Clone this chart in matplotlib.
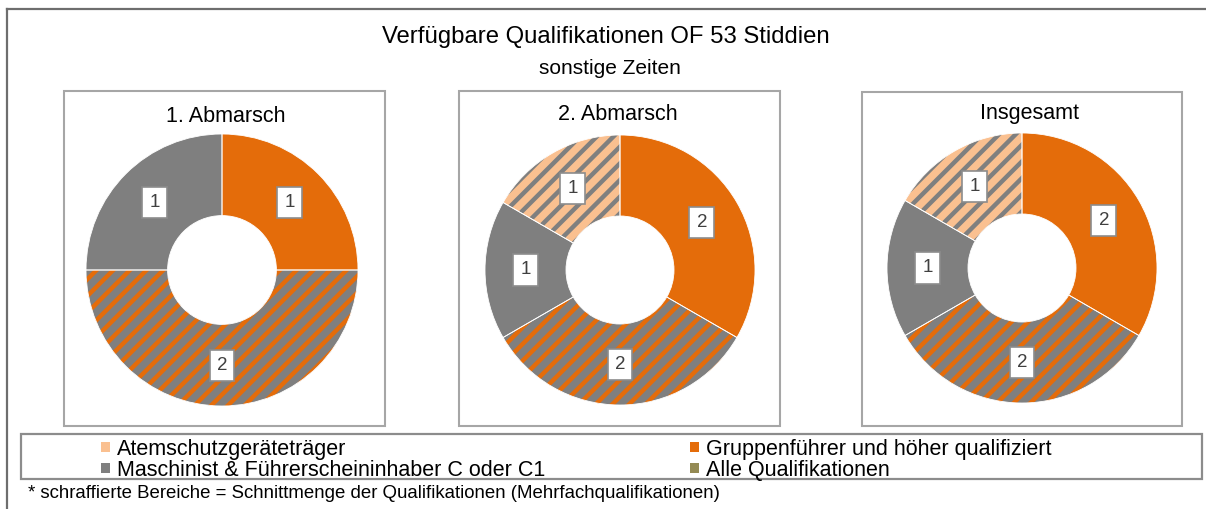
import matplotlib
matplotlib.use("Agg")
import matplotlib.pyplot as plt
from matplotlib.patches import Rectangle, Patch
from matplotlib.lines import Line2D

plt.rcParams['font.family'] = ['Liberation Sans', 'DejaVu Sans']
plt.rcParams['hatch.linewidth'] = 3.2

W, H = 1206, 509

title = "Verfügbare Qualifikationen OF 53 Stiddien"
subtitle = "sonstige Zeiten"
chart_titles = ["1. Abmarsch", "2. Abmarsch", "Insgesamt"]

# slices clockwise from 12 o'clock
segments = ["Gruppenführer", "Gruppenführer & Maschinist", "Maschinist", "Atemschutz & Maschinist"]
values_1 = [1, 2, 1, 0]
values_2 = [2, 2, 1, 1]
values_total = [2, 2, 1, 1]

legend_labels = ["Atemschutzgeräteträger", "Maschinist & Führerscheininhaber C oder C1",
                 "Gruppenführer und höher qualifiziert", "Alle Qualifikationen"]
footnote = "* schraffierte Bereiche = Schnittmenge der Qualifikationen (Mehrfachqualifikationen)"

ORANGE = "#E46C0A"
LIGHT = "#FAC090"
GRAY = "#7F7F7F"
OLIVE = "#948A54"

# face colour, hatch colour (None = solid)
seg_style = {
    "Gruppenführer": (ORANGE, None),
    "Gruppenführer & Maschinist": (GRAY, ORANGE),
    "Maschinist": (GRAY, None),
    "Atemschutz & Maschinist": (LIGHT, GRAY),
}
legend_colors = [LIGHT, GRAY, ORANGE, OLIVE]


def fx(px):
    return px / W


def fy(py):
    return 1 - py / H


def add_box(fig, x0, y0, x1, y1, color="#A6A6A6", lw=1.5):
    fig.patches.append(Rectangle((fx(x0), fy(y1)), fx(x1 - x0), (y1 - y0) / H, transform=fig.transFigure,
                                 fill=False, edgecolor=color, linewidth=lw))


def draw_donut(fig, cx, cy, r, values):
    ax = fig.add_axes([fx(cx - r), fy(cy + r), 2 * r / W, 2 * r / H])
    vals = [v for v in values if v > 0]
    segs = [s for s, v in zip(segments, values) if v > 0]
    total = sum(vals)
    wedges, texts, autotexts = ax.pie(
        vals, startangle=90, counterclock=False, radius=1,
        wedgeprops=dict(width=0.6, linewidth=0),
        autopct=lambda p: f"{p * total / 100:.0f}", pctdistance=0.7,
        textprops=dict(fontsize=13.5, color="#404040"))
    for w, s in zip(wedges, segs):
        face, hatch_col = seg_style[s]
        w.set_facecolor(face)
        if hatch_col is not None:
            w.set_hatch("//")
            w.set_edgecolor(hatch_col)
            w.set_linewidth(0)
    # thin separators between slices
    ax.pie(vals, startangle=90, counterclock=False, radius=1,
           wedgeprops=dict(width=0.6, linewidth=0.6, edgecolor="white", fill=False))
    for t in autotexts:
        t.set_bbox(dict(boxstyle="square,pad=0.38", facecolor="white", edgecolor="#8C8C8C", linewidth=1.2))
    ax.set_xlim(-1, 1)
    ax.set_ylim(-1, 1)
    ax.set_axis_off()


fig = plt.figure(figsize=(W / 100, H / 100), dpi=100)

# outer chart frame (cut at right/bottom)
fig.lines.append(Line2D([fx(7), fx(W)], [fy(9), fy(9)], transform=fig.transFigure, color="#6E6E6E", linewidth=1.6))
fig.lines.append(Line2D([fx(7), fx(7)], [fy(9), fy(H)], transform=fig.transFigure, color="#6E6E6E", linewidth=1.6))

fig.text(fx(606), fy(37), title, ha="center", va="center", fontsize=17.2)
fig.text(fx(610), fy(68), subtitle, ha="center", va="center", fontsize=15)

boxes = [(64, 91, 385, 426), (459, 91, 780, 426), (862, 92, 1182, 426)]
centers = [(222, 270, 136), (620, 270, 135), (1022, 268, 135)]
title_pos = [(226, 116), (618, 115), (1029, 114)]
data = [values_1, values_2, values_total]

for box, (cx, cy, r), (tx, ty), name, vals in zip(boxes, centers, title_pos, chart_titles, data):
    add_box(fig, *box)
    fig.text(fx(tx), fy(ty), name, ha="center", va="center", fontsize=15.5)
    draw_donut(fig, cx, cy, r, vals)

# legend
add_box(fig, 21, 434, 1202, 479, color="#8C8C8C", lw=1.6)
handles = [Patch(facecolor=c, edgecolor="none") for c in legend_colors]
leg = fig.legend(handles, legend_labels, ncol=2, loc="upper left", bbox_to_anchor=(fx(99), fy(436.5)),
                 frameon=False, fontsize=15.5, handlelength=0.4, handleheight=0.4, handletextpad=0.33,
                 labelspacing=0.0, columnspacing=6.75, borderpad=0.1, borderaxespad=0)

fig.text(fx(28), fy(494), footnote, ha="left", va="center", fontsize=13.45)

fig.savefig("out.png", dpi=100)
